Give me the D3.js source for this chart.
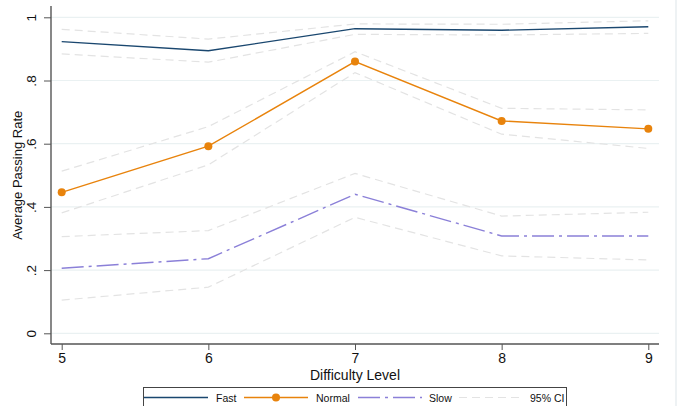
<!DOCTYPE html>
<html>
<head>
<meta charset="utf-8">
<script src="https://cdn.jsdelivr.net/npm/d3@7"></script>
<style>
  body { margin: 0; background: #fff; }
  text { font-family: "Liberation Sans", Arial, sans-serif; fill: #111; }
</style>
</head>
<body>
<div id="chart"></div>
<script>
// data
var levels = [5, 6, 7, 8, 9];
var fast = [0.923, 0.894, 0.964, 0.959, 0.970];
var fastHi = [0.962, 0.931, 0.979, 0.978, 0.989];
var fastLo = [0.884, 0.858, 0.946, 0.944, 0.949];
var normal = [0.446, 0.592, 0.860, 0.672, 0.647];
var normalHi = [0.513, 0.654, 0.891, 0.712, 0.707];
var normalLo = [0.381, 0.533, 0.825, 0.630, 0.585];
var slow = [0.206, 0.236, 0.440, 0.308, 0.308];
var slowHi = [0.306, 0.325, 0.506, 0.371, 0.383];
var slowLo = [0.105, 0.146, 0.367, 0.245, 0.232];
var yTicks = [0, 0.2, 0.4, 0.6, 0.8, 1];
var yTickLabels = ["0", ".2", ".4", ".6", ".8", "1"];

var W = 678, H = 406;
var svg = d3.select("#chart").append("svg")
  .attr("width", W).attr("height", H);

// faint outer border on the right
svg.append("line")
  .attr("x1", 676).attr("x2", 676).attr("y1", 0).attr("y2", H)
  .attr("stroke", "#eef2f4").attr("stroke-width", 2);

var x = d3.scaleLinear().domain([5, 9]).range([61.7, 648.3]);
var y = d3.scaleLinear().domain([0, 1]).range([333.3, 17.3]);

var axisLeftX = 51, axisBottomY = 344;

// gridlines
svg.append("g").selectAll("line")
  .data(yTicks).enter().append("line")
  .attr("x1", axisLeftX).attr("x2", 659)
  .attr("y1", function(d) { return y(d); })
  .attr("y2", function(d) { return y(d); })
  .attr("stroke", "#eaf1f2").attr("stroke-width", 1.2);

// y axis
var yAxis = svg.append("g")
  .attr("transform", "translate(" + axisLeftX + ",0)")
  .call(d3.axisLeft(y).tickValues(yTicks)
    .tickFormat(function(d, i) { return yTickLabels[i]; })
    .tickSize(7).tickSizeOuter(0));
yAxis.select(".domain").remove();
yAxis.selectAll(".tick line").attr("stroke", "#555");
yAxis.selectAll(".tick text")
  .attr("font-size", 13.5)
  .attr("x", 0).attr("dy", 0)
  .attr("text-anchor", "middle")
  .attr("transform", "translate(-15,0) rotate(-90)")
  .style("font-family", "Liberation Sans, Arial, sans-serif")
  .attr("fill", "#111");
svg.append("line")
  .attr("x1", axisLeftX).attr("x2", axisLeftX)
  .attr("y1", 6).attr("y2", axisBottomY)
  .attr("stroke", "#555").attr("stroke-width", 1.4);

// x axis
var xAxis = svg.append("g")
  .attr("transform", "translate(0," + axisBottomY + ")")
  .call(d3.axisBottom(x).tickValues(levels).tickFormat(d3.format("d"))
    .tickSize(6).tickSizeOuter(0));
xAxis.select(".domain").remove();
xAxis.selectAll(".tick line").attr("stroke", "#555");
xAxis.selectAll(".tick text")
  .attr("font-size", 14).attr("y", 9)
  .style("font-family", "Liberation Sans, Arial, sans-serif")
  .attr("fill", "#111");
svg.append("line")
  .attr("x1", axisLeftX).attr("x2", 659)
  .attr("y1", axisBottomY).attr("y2", axisBottomY)
  .attr("stroke", "#555").attr("stroke-width", 1.4);

// axis titles
svg.append("text")
  .attr("x", 355).attr("y", 380)
  .attr("text-anchor", "middle").attr("font-size", 14)
  .text("Difficulty Level");
svg.append("text")
  .attr("transform", "translate(22," + y(0.5) + ") rotate(-90)")
  .attr("text-anchor", "middle").attr("font-size", 13)
  .text("Average Passing Rate");

var line = d3.line()
  .x(function(d, i) { return x(levels[i]); })
  .y(function(d) { return y(d); });

// confidence bands
var ciColor = "#e3e3e3";
[fastHi, fastLo, normalHi, normalLo, slowHi, slowLo].forEach(function(s) {
  svg.append("path").datum(s)
    .attr("d", line).attr("fill", "none")
    .attr("stroke", ciColor).attr("stroke-width", 1.2)
    .attr("stroke-dasharray", "8,5");
});

var fastColor = "#1a476f", normalColor = "#e8830c", slowColor = "#8b80d8";

svg.append("path").datum(fast)
  .attr("d", line).attr("fill", "none")
  .attr("stroke", fastColor).attr("stroke-width", 1.4);

svg.append("path").datum(normal)
  .attr("d", line).attr("fill", "none")
  .attr("stroke", normalColor).attr("stroke-width", 1.4);
svg.selectAll(".dot").data(normal).enter().append("circle")
  .attr("cx", function(d, i) { return x(levels[i]); })
  .attr("cy", function(d) { return y(d); })
  .attr("r", 4).attr("fill", normalColor);

svg.append("path").datum(slow)
  .attr("d", line).attr("fill", "none")
  .attr("stroke", slowColor).attr("stroke-width", 1.4)
  .attr("stroke-dasharray", "22,5,3,5");

// legend
var lg = svg.append("g");
lg.append("rect")
  .attr("x", 143.5).attr("y", 387.5).attr("width", 423).attr("height", 25)
  .attr("fill", "#fff").attr("stroke", "#444").attr("stroke-width", 1);
var legendItems = [
  {label: "Fast", x1: 144, x2: 208, tx: 216, color: fastColor, dash: null, dot: false, w: 1.4},
  {label: "Normal", x1: 244, x2: 308, tx: 316, color: normalColor, dash: null, dot: true, w: 1.4},
  {label: "Slow", x1: 358, x2: 422, tx: 429, color: slowColor, dash: "22,5,3,5", dot: false, w: 1.4},
  {label: "95% CI", x1: 459, x2: 523, tx: 530, color: ciColor, dash: "8,5", dot: false, w: 1.2}
];
var ly = 397.5;
legendItems.forEach(function(it) {
  lg.append("line")
    .attr("x1", it.x1).attr("x2", it.x2).attr("y1", ly).attr("y2", ly)
    .attr("stroke", it.color).attr("stroke-width", it.w)
    .attr("stroke-dasharray", it.dash);
  if (it.dot) {
    lg.append("circle").attr("cx", (it.x1 + it.x2) / 2).attr("cy", ly)
      .attr("r", 4).attr("fill", it.color);
  }
  lg.append("text")
    .attr("x", it.tx).attr("y", ly + 4)
    .attr("font-size", 10.5).text(it.label);
});
</script>
</body>
</html>
